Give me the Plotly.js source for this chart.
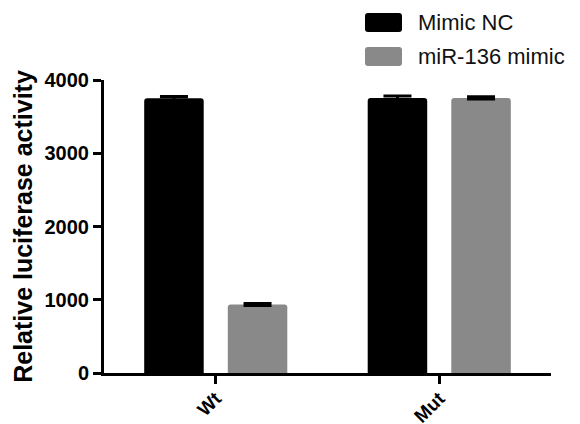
<!DOCTYPE html>
<html>
<head>
<meta charset="utf-8">
<script src="https://cdn.plot.ly/plotly-3.0.1.min.js"></script>
<style>
  html, body { margin: 0; padding: 0; background: #fff; }
  #chart { width: 580px; height: 424px; }
</style>
</head>
<body>
<div id="chart"></div>
<script>
// ---- data ----
const categories = ["Wt", "Mut"];
const seriesNames = ["Mimic NC", "miR-136 mimic"];
const mimicNC = [3750, 3755];
const mimicNCErr = [25, 25];
const mir136 = [935, 3755];
const mir136Err = [15, 15];
const yTicks = [0, 1000, 2000, 3000, 4000];

const colors = ["#000000", "#898989"];
const FONT = "Liberation Sans, Arial, Helvetica, sans-serif";

const W = 580, H = 424;
const M = { l: 104, r: 29, t: 80, b: 51 };
const pw = W - M.l - M.r, ph = H - M.t - M.b;
const px = x => (x - M.l) / pw;
const py = y => (H - M.b - y) / ph;

const traces = [
  {
    type: "bar", name: seriesNames[0], x: categories, y: mimicNC,
    marker: { color: colors[0], cornerradius: 3, line: { width: 0 } },
    error_y: { type: "data", array: mimicNCErr, visible: true, color: "#000", thickness: 3, width: 14 }
  },
  {
    type: "bar", name: seriesNames[1], x: categories, y: mir136,
    marker: { color: colors[1], cornerradius: 3, line: { width: 0 } },
    error_y: { type: "data", array: mir136Err, visible: true, color: "#000", thickness: 3, width: 14 }
  }
];

// legend drawn as rounded swatches + annotations
function roundedRectPath(x0, y0, x1, y1, r) {
  const X = v => px(v).toFixed(5), Y = v => py(v).toFixed(5);
  return `M${X(x0 + r)},${Y(y0)} L${X(x1 - r)},${Y(y0)} Q${X(x1)},${Y(y0)} ${X(x1)},${Y(y0 + r)} ` +
         `L${X(x1)},${Y(y1 - r)} Q${X(x1)},${Y(y1)} ${X(x1 - r)},${Y(y1)} ` +
         `L${X(x0 + r)},${Y(y1)} Q${X(x0)},${Y(y1)} ${X(x0)},${Y(y1 - r)} ` +
         `L${X(x0)},${Y(y0 + r)} Q${X(x0)},${Y(y0)} ${X(x0 + r)},${Y(y0)} Z`;
}
const legendRows = [
  { y0: 13, y1: 32 },
  { y0: 47, y1: 66 }
];
const shapes = legendRows.map((r, i) => ({
  type: "path", xref: "paper", yref: "paper",
  path: roundedRectPath(365, r.y0, 402, r.y1, 3),
  fillcolor: colors[i], line: { width: 0 }
}));
const annotations = legendRows.map((r, i) => ({
  xref: "paper", yref: "paper", x: px(416), y: py((r.y0 + r.y1) / 2),
  xanchor: "left", yanchor: "middle", showarrow: false,
  text: seriesNames[i], font: { family: FONT, size: 22, color: "#111" }
}));

const layout = {
  width: W, height: H,
  margin: M,
  paper_bgcolor: "#fff", plot_bgcolor: "#fff",
  barmode: "group", bargap: 0.252, bargroupgap: 0.288,
  showlegend: false,
  font: { family: FONT, color: "#000" },
  xaxis: {
    type: "category", range: [-0.5, 1.5],
    showline: true, linecolor: "#000", linewidth: 3,
    ticks: "outside", ticklen: 8, tickwidth: 3, tickcolor: "#000",
    tickangle: -45, ticklabelstandoff: -4,
    tickfont: { family: FONT, size: 19, color: "#000", weight: "bold" },
    showgrid: false, zeroline: false, fixedrange: true, automargin: false
  },
  yaxis: {
    range: [0, 4000], tickvals: yTicks, ticktext: yTicks.map(String),
    showline: true, linecolor: "#000", linewidth: 3,
    ticks: "outside", ticklen: 8, tickwidth: 3, tickcolor: "#000",
    tickfont: { family: FONT, size: 20, color: "#000", weight: "bold" },
    showgrid: false, zeroline: false, fixedrange: true, automargin: false,
    title: { text: "Relative luciferase activity", standoff: 5,
             font: { family: FONT, size: 25, color: "#000", weight: "bold" } }
  },
  shapes: shapes,
  annotations: annotations
};

Plotly.newPlot("chart", traces, layout, { displayModeBar: false, staticPlot: true });
</script>
</body>
</html>
